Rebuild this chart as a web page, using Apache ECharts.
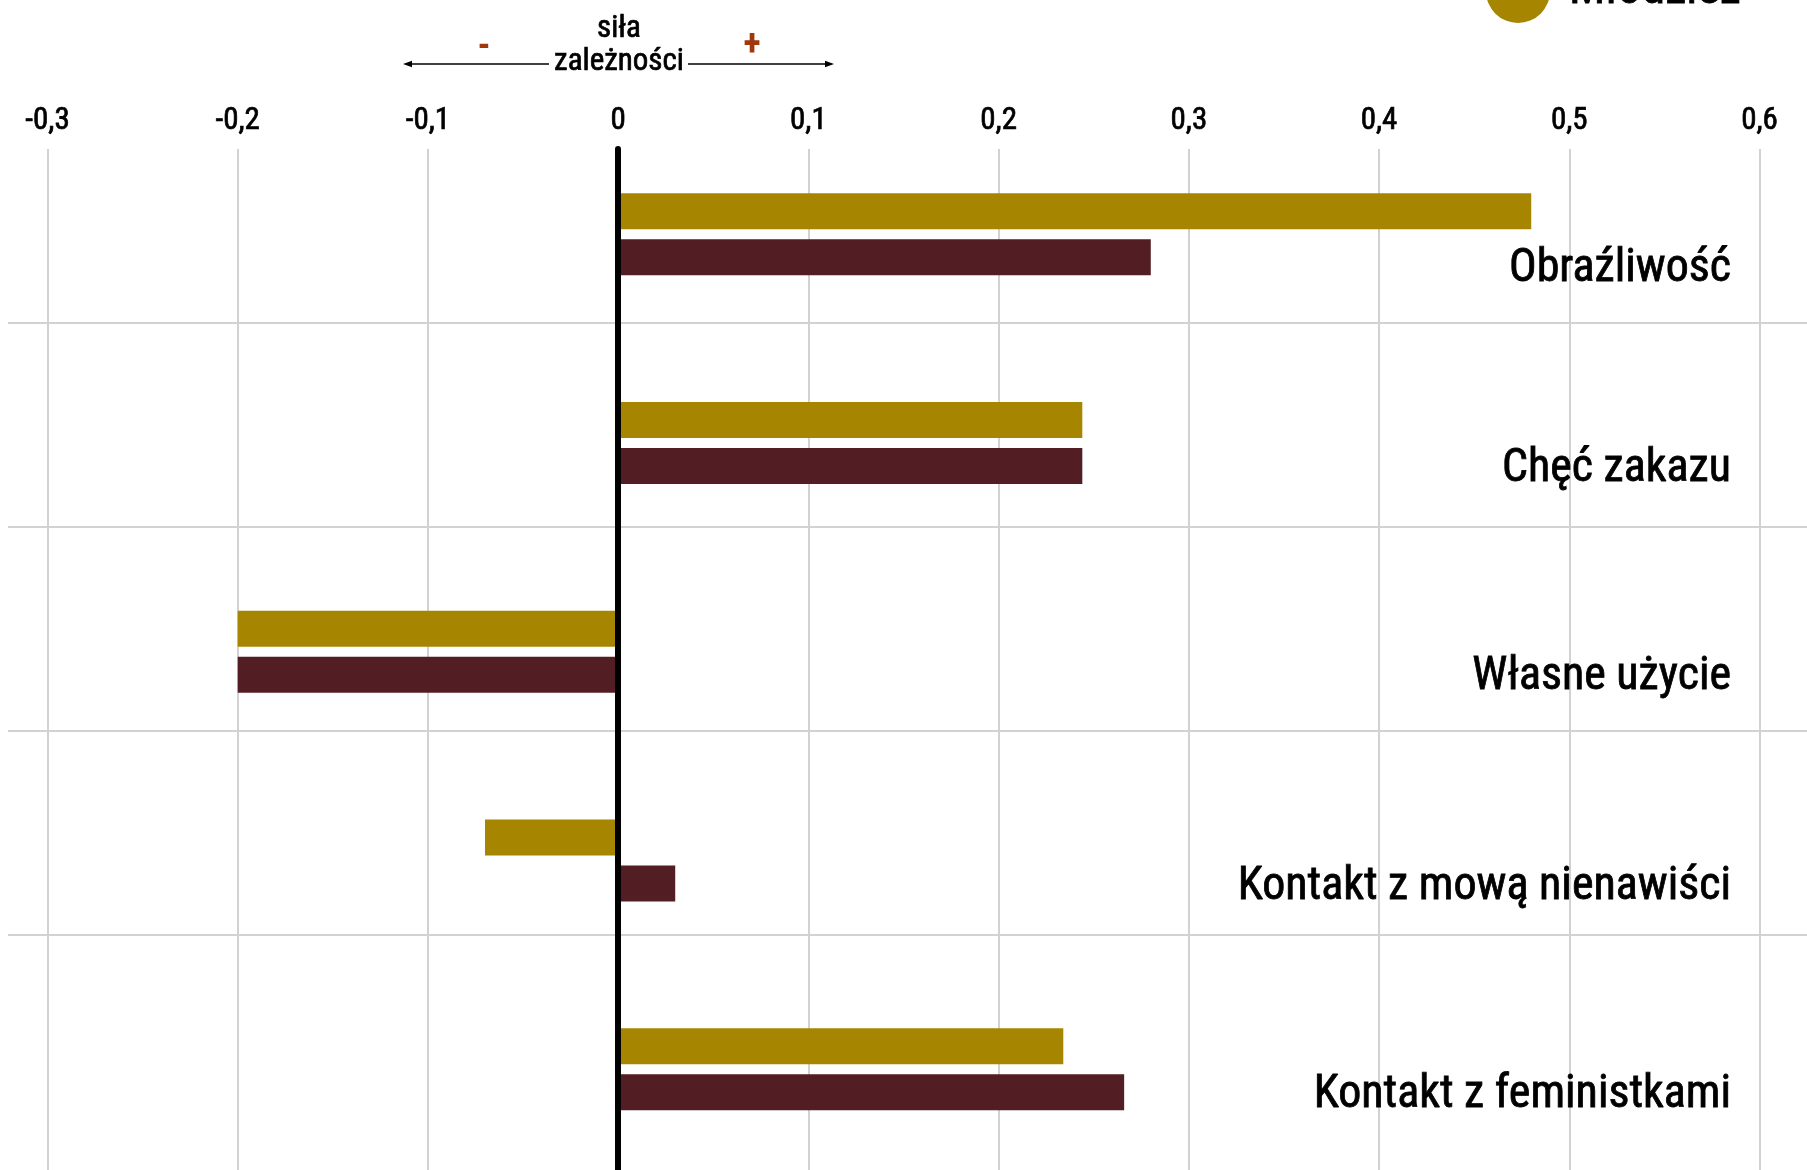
<!DOCTYPE html>
<html>
<head>
<meta charset="utf-8">
<script src="https://cdn.jsdelivr.net/npm/echarts@6/dist/echarts.min.js"></script>
<style>
  html, body { margin: 0; padding: 0; background: #ffffff; }
  #chart { width: 1807px; height: 1170px; }
</style>
</head>
<body>
<div id="chart"></div>
<script>
// Correlation strength ("siła zależności") per attitude, two groups
const categories = ['Obraźliwość', 'Chęć zakazu', 'Własne użycie', 'Kontakt z mową nienawiści', 'Kontakt z feministkami'];
const seriesNames = ['Młodzież', 'Dorośli'];
const youthValues = [0.48, 0.244, -0.2, -0.07, 0.234];
const adultValues = [0.28, 0.244, -0.2, 0.03, 0.266];
const tickMin = -0.3;
const tickMax = 0.6;
const tickStep = 0.1;

// styling
const FONT = '"Roboto Condensed", "Noto Sans Condensed", "DejaVu Sans Condensed", sans-serif';
const GOLD = '#a68600';
const WINE = '#521e23';
const GRIDLINE = '#d2d2d2';
const ACCENT = '#a0380e';
const labelDrop = [35, 26.5, 26, 27, 26]; // px below bar-pair centre
// regular face with a hairline outline reads as a medium weight
const medium = w => ({ fontWeight: 'normal', textBorderColor: '#000', textBorderWidth: w });

const fmtTick = v => String(+v.toFixed(1)).replace('.', ',');

// one rich style per category label so each can sit at its own drop
const labelRich = {};
labelDrop.forEach((d, i) => {
  labelRich['c' + i] = Object.assign({ fontFamily: FONT, fontSize: 46, color: '#000', padding: [d * 2, 0, 0, 0] }, medium(0.8));
});

const chart = echarts.init(document.getElementById('chart'), null, { renderer: 'canvas' });

chart.setOption({
  backgroundColor: '#ffffff',
  animation: false,
  textStyle: { fontFamily: FONT },
  legend: {
    orient: 'vertical',
    left: 1481,
    top: -130,
    itemWidth: 64,
    itemHeight: 64,
    itemGap: 20,
    icon: 'circle',
    selectedMode: false,
    data: [seriesNames[1], seriesNames[0]],
    textStyle: Object.assign({ fontFamily: FONT, fontSize: 48, color: '#000', padding: [0, 0, 0, 14] }, medium(0.8))
  },
  grid: [
    // bars
    { left: 47.5, right: 47.5, top: 129.9, height: 1043.75, outerBoundsMode: 'none', containLabel: false },
    // vertical gridlines, tick labels, zero line
    { left: 47.5, right: 47.5, top: 149, bottom: 0, outerBoundsMode: 'none', containLabel: false },
    // horizontal row separators
    { left: 8, right: 0, top: 323, height: 612, outerBoundsMode: 'none', containLabel: false }
  ],
  xAxis: [
    { gridIndex: 0, type: 'value', min: tickMin, max: tickMax, interval: tickStep, show: false },
    {
      gridIndex: 1, type: 'value', position: 'top', min: tickMin, max: tickMax, interval: tickStep,
      axisLine: { show: false }, axisTick: { show: false },
      splitLine: { show: true, lineStyle: { color: GRIDLINE, width: 2 } },
      axisLabel: Object.assign({ show: true, margin: 12, fontFamily: FONT, fontSize: 31, color: '#000', formatter: fmtTick }, medium(0.7))
    },
    { gridIndex: 2, type: 'value', min: 0, max: 1, show: false }
  ],
  yAxis: [
    {
      gridIndex: 0, type: 'category', inverse: true, position: 'right',
      data: categories,
      axisLine: { show: false }, axisTick: { show: false }, splitLine: { show: false },
      axisLabel: {
        inside: true, margin: 28.5, fontFamily: FONT, fontSize: 46, color: '#000',
        formatter: (v, i) => '{c' + i + '|' + v + '}',
        rich: labelRich
      }
    },
    {
      gridIndex: 1, type: 'value', min: 0, max: 1, z: 5,
      axisLine: { show: true, onZero: true, lineStyle: { color: '#000', width: 6 } },
      axisTick: { show: false }, axisLabel: { show: false }, splitLine: { show: false }
    },
    {
      gridIndex: 2, type: 'value', inverse: true, min: 0, max: 3, interval: 1,
      axisLine: { show: false }, axisTick: { show: false }, axisLabel: { show: false },
      splitLine: { show: true, lineStyle: { color: GRIDLINE, width: 2 } }
    }
  ],
  series: [
    {
      name: seriesNames[0], type: 'bar', xAxisIndex: 0, yAxisIndex: 0,
      data: youthValues, barWidth: 36, barGap: '27.8%',
      itemStyle: { color: GOLD }
    },
    {
      name: seriesNames[1], type: 'bar', xAxisIndex: 0, yAxisIndex: 0,
      data: adultValues, barWidth: 36, barGap: '27.8%',
      itemStyle: { color: WINE }
    }
  ],
  graphic: [
    { type: 'text', x: 619, y: 29, style: { text: 'siła', font: '31px ' + FONT, fill: '#000', stroke: '#000', lineWidth: 0.7, align: 'center', verticalAlign: 'middle' } },
    { type: 'text', x: 619, y: 62.5, style: { text: 'zależności', font: '31px ' + FONT, fill: '#000', stroke: '#000', lineWidth: 0.7, align: 'center', verticalAlign: 'middle' } },
    { type: 'line', shape: { x1: 549, y1: 64, x2: 410, y2: 64 }, style: { stroke: '#000', lineWidth: 1.6 } },
    { type: 'polygon', shape: { points: [[403, 64], [412, 60.8], [412, 67.2]] }, style: { fill: '#000' } },
    { type: 'line', shape: { x1: 688, y1: 64, x2: 827, y2: 64 }, style: { stroke: '#000', lineWidth: 1.6 } },
    { type: 'polygon', shape: { points: [[834, 64], [825, 60.8], [825, 67.2]] }, style: { fill: '#000' } },
    { type: 'text', x: 484, y: 47.5, style: { text: '-', font: 'bold 36px ' + FONT, fill: ACCENT, align: 'center', verticalAlign: 'middle' } },
    { type: 'text', x: 752, y: 46, style: { text: '+', font: 'bold 36px ' + FONT, fill: ACCENT, align: 'center', verticalAlign: 'middle' } }
  ]
});
</script>
</body>
</html>
